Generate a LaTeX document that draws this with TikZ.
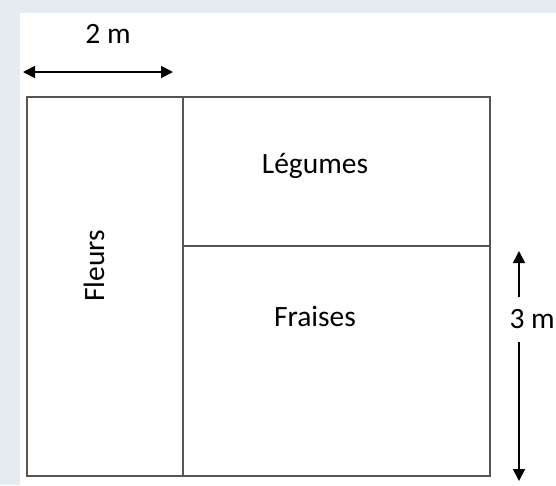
\documentclass[tikz,border=0pt]{standalone}
\usepackage{fontspec}
\setmainfont{Carlito}
\usetikzlibrary{arrows.meta}
\definecolor{bgc}{HTML}{E6EBF0}
\definecolor{linec}{HTML}{555555}
\tikzset{
  plot/.style={draw=linec, line width=1.4pt},
  lbl/.style={inner sep=0pt, font=\fontsize{29.5}{33}\selectfont},
  dimarrow/.style={line width=1.8pt, -{Triangle[length=12pt,width=12pt]}},
  dimarrows/.style={line width=1.8pt, {Triangle[length=12pt,width=12pt]}-{Triangle[length=12pt,width=12pt]}}
}
\begin{document}
\begin{tikzpicture}[x=1pt,y=-1pt]
\useasboundingbox (0,0) rectangle (556,485);
\fill[bgc] (0,0) rectangle (556,485);
\fill[white] (20,13) rectangle (556,485);
% garden
\draw[plot] (27,97) rectangle (490,476);
\draw[plot] (183,97) -- (183,476);
\draw[plot] (183,246) -- (490,246);
% labels
\node[lbl] (leg) at (315,166) {Légumes};
\node[lbl] (fra) at (315,316) {Fraises};
\node[lbl, rotate=90] (fle) at (94,266) {Fleurs};
% 2 m
\node[lbl] (two) at (108,34) {2 m};
\coordinate (al) at (23,72);
\coordinate (ar) at (173,72);
\draw[dimarrows] (al) -- (ar);
% 3 m
\node[lbl, anchor=east] (three) at (555,319) {3 m};
\coordinate (u1) at (519,297);
\coordinate (u2) at (519,251);
\coordinate (d1) at (519,342);
\coordinate (d2) at (519,481);
\draw[dimarrow] (u1) -- (u2);
\draw[dimarrow] (d1) -- (d2);
\end{tikzpicture}
\end{document}
